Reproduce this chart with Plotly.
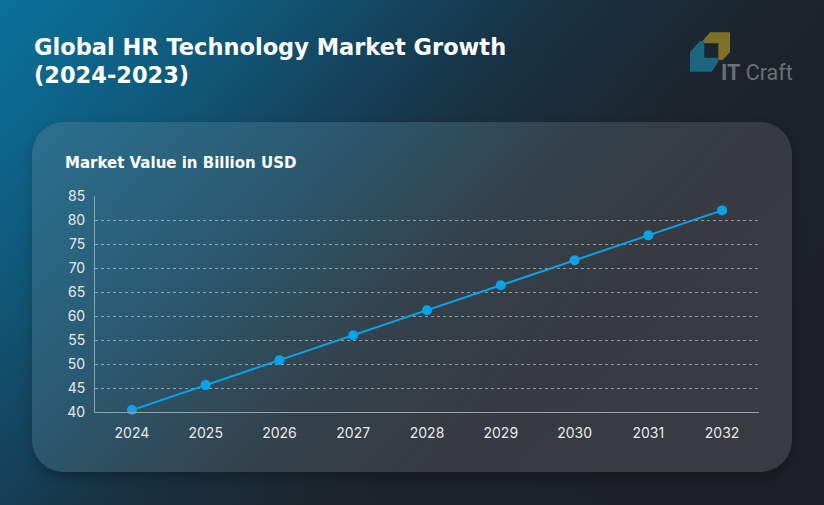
import base64
import plotly.graph_objects as go

# ---- data ----
years = ["2024", "2025", "2026", "2027", "2028", "2029", "2030", "2031", "2032"]
market_values = [40.4, 45.6, 50.8, 56.0, 61.2, 66.4, 71.6, 76.8, 82.0]
y_ticks = [40, 45, 50, 55, 60, 65, 70, 75, 80, 85]

W, H = 824, 505

# ---- decorative background (gradient page + card) ----
svg = f"""<svg xmlns='http://www.w3.org/2000/svg' width='{W}' height='{H}' viewBox='0 0 {W} {H}' preserveAspectRatio='none'>
<defs>
<linearGradient id='bg' x1='0' y1='0' x2='1' y2='0.55'>
<stop offset='0' stop-color='#0a729c'/>
<stop offset='0.22' stop-color='#0f5a7c'/>
<stop offset='0.5' stop-color='#183446'/>
<stop offset='0.75' stop-color='#1d232a'/>
<stop offset='1' stop-color='#1d2027'/>
</linearGradient>
<linearGradient id='card' x1='0' y1='0' x2='1' y2='0.45'>
<stop offset='0' stop-color='#2b7090'/>
<stop offset='0.3' stop-color='#2a5c74'/>
<stop offset='0.6' stop-color='#33424c'/>
<stop offset='0.8' stop-color='#373a41'/>
<stop offset='1' stop-color='#383b41'/>
</linearGradient>
<filter id='sh' x='-10%' y='-10%' width='120%' height='130%'>
<feGaussianBlur stdDeviation='6'/>
</filter>
</defs>
<rect x='0' y='0' width='{W}' height='{H}' fill='url(#bg)'/>
<rect x='34' y='128' width='758' height='350' rx='32' ry='32' fill='#000' opacity='0.25' filter='url(#sh)'/>
<rect x='32' y='122' width='760' height='350' rx='32' ry='32' fill='url(#card)'/>
</svg>"""
bg_src = "data:image/svg+xml;base64," + base64.b64encode(svg.encode()).decode()


def px_path(points):
    pts = [(x / W, 1 - y / H) for x, y in points]
    d = "M " + " L ".join(f"{x:.5f},{y:.5f}" for x, y in pts) + " Z"
    return d


gold_logo = [(702.7, 40.7), (710, 32.3), (730, 32.3), (730, 52.3), (722.7, 60),
             (718.3, 60), (718.3, 43.3), (702.7, 43.3)]
teal_logo = [(690, 52), (700, 41), (704.3, 41), (704.3, 57.7), (718.3, 57.7),
             (718.3, 62), (711.7, 71.7), (690, 71.7)]

FONT = "Inter"
TITLE_FONT = "DejaVu Sans"

fig = go.Figure()
fig.add_trace(go.Scatter(
    x=years, y=market_values, mode="lines+markers",
    line=dict(color="#0aa3ea", width=2),
    marker=dict(color="#0aa3ea", size=10),
    cliponaxis=False, showlegend=False, hoverinfo="x+y",
))

fig.update_layout(
    width=W, height=H, autosize=False,
    margin=dict(l=0, r=0, t=0, b=0, pad=0, autoexpand=False),
    paper_bgcolor="#1d2027",
    plot_bgcolor="rgba(0,0,0,0)",
    font=dict(family=FONT, color="#e6e9ec"),
    images=[dict(source=bg_src, xref="paper", yref="paper", x=0, y=1,
                 sizex=1, sizey=1, xanchor="left", yanchor="top",
                 sizing="stretch", layer="below")],
    xaxis=dict(
        type="category", range=[-0.5, 8.5], domain=[95 / W, 759 / W],
        showgrid=False, showline=True, linecolor="#9aa1a6", linewidth=1,
        ticks="", tickfont=dict(size=14, color="#e6e9ec"), ticklabelstandoff=8,
        zeroline=False, fixedrange=True,
    ),
    yaxis=dict(
        range=[40, 85], tickvals=y_ticks, domain=[(H - 412) / H, (H - 196) / H],
        showgrid=True, gridcolor="rgba(220,225,230,0.55)", griddash="dot", gridwidth=1,
        showline=True, linecolor="#9aa1a6", linewidth=1, zeroline=False,
        ticks="", tickfont=dict(size=14, color="#e6e9ec"), ticklabelstandoff=6,
        fixedrange=True,
    ),
    shapes=[
        dict(type="path", xref="paper", yref="paper", path=px_path(gold_logo),
             fillcolor="#7f7129", line=dict(width=0), layer="above"),
        dict(type="path", xref="paper", yref="paper", path=px_path(teal_logo),
             fillcolor="#1d6680", line=dict(width=0), layer="above"),
    ],
    annotations=[
        dict(text="<b>Global HR Technology Market Growth</b>", xref="paper", yref="paper",
             x=32 / W, y=1 - 47 / H, xanchor="left", yanchor="middle", showarrow=False,
             font=dict(size=22.5, color="#ffffff", family=TITLE_FONT)),
        dict(text="<b>(2024-2023)</b>", xref="paper", yref="paper",
             x=32 / W, y=1 - 75 / H, xanchor="left", yanchor="middle", showarrow=False,
             font=dict(size=22.5, color="#ffffff", family=TITLE_FONT)),
        dict(text="<b>Market Value in Billion USD</b>", xref="paper", yref="paper",
             x=63 / W, y=1 - 163 / H, xanchor="left", yanchor="middle", showarrow=False,
             font=dict(size=15, color="#ffffff", family=TITLE_FONT)),
        dict(text="<b>IT</b> Craft", xref="paper", yref="paper",
             x=719 / W, y=1 - 72 / H, xanchor="left", yanchor="middle", showarrow=False,
             font=dict(size=21.5, color="#6c7075", family="Roboto")),
    ],
)

post = """
(function(){
  var st = document.createElement('style');
  st.textContent = 'html,body{margin:0!important;padding:0!important;overflow:hidden!important;background:#1d2027;}';
  document.head.appendChild(st);
})();
"""

fig.write_html("out.html", post_script=post,
               config={"responsive": False, "displayModeBar": False})
